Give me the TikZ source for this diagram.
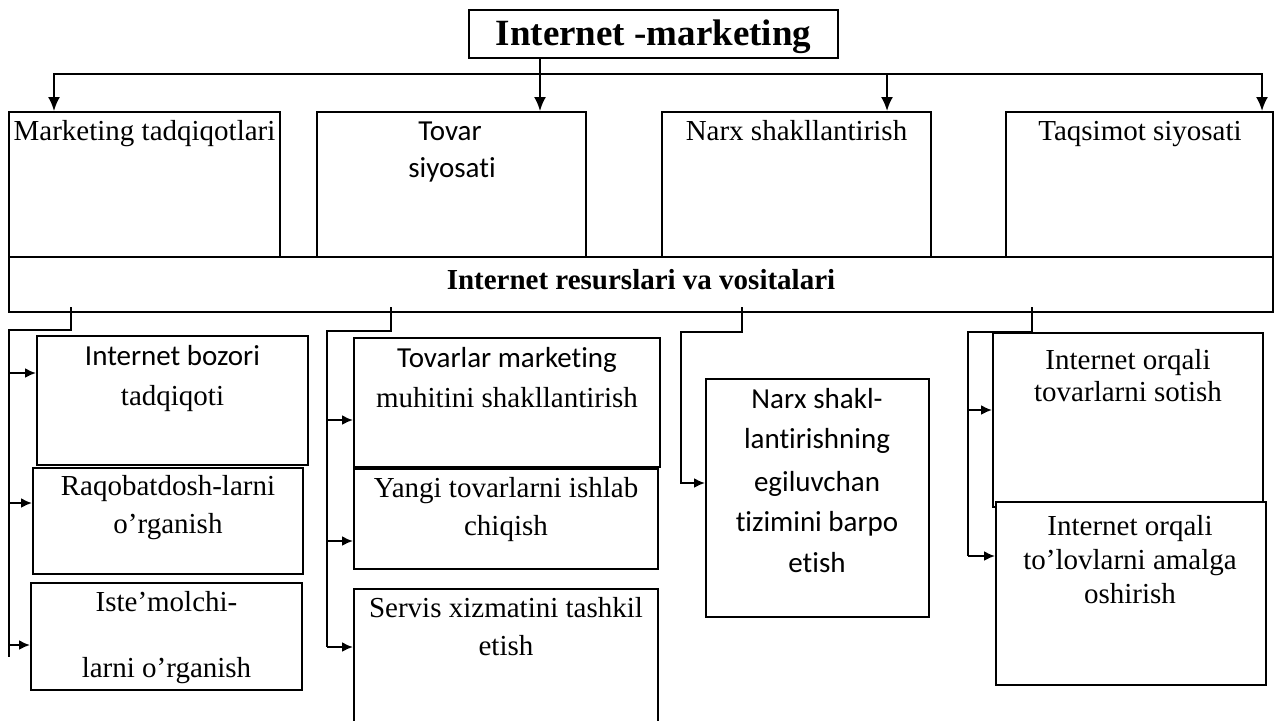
\documentclass[tikz,border=0pt]{standalone}
\usepackage{fontspec}
\setmainfont{Liberation Serif}
\newfontfamily\calfont[Ligatures={NoCommon}]{Carlito}
\usetikzlibrary{arrows.meta}
\begin{document}
\begin{tikzpicture}[x=0.5pt,y=-0.5pt,line width=1pt,
  box/.style={draw,rectangle,inner sep=0pt,line width=1pt},
  wh/.style 2 args={minimum width=#1*0.5pt,minimum height=#2*0.5pt},
  tx/.style={anchor=base,inner sep=0pt,font=\fontsize{14.5}{17}\selectfont},
  cx/.style={anchor=base,inner sep=0pt,font=\calfont\fontsize{14.5}{17}\selectfont},
  arr/.style={-{Latex[length=7pt,width=6pt]}},
  sarr/.style={-{Latex[length=5.5pt,width=5pt]}}]
\useasboundingbox (0,0) rectangle (1274,720);
\clip (0,0) rectangle (1274,720);

% title
\node[box,wh={369}{48}] (t) at (653.5,34) {};
\node[anchor=base,inner sep=0pt,font=\bfseries\fontsize{18.5}{22}\selectfont] (tt) at (653.5,45) {Internet -marketing};

% top boxes
\node[box,wh={271}{145}] (b1) at (144.5,184.5) {};
\node[box,wh={269}{145}] (b2) at (451.5,184.5) {};
\node[box,wh={269}{145}] (b3) at (796.5,184.5) {};
\node[box,wh={267}{145}] (b4) at (1139.5,184.5) {};
\node[tx] (b1t) at (144.5,140) {Marketing tadqiqotlari};
\node[cx] (b2t) at (450,140) {Tovar};
\node[cx] (b2u) at (452,177) {siyosati};
\node[tx] (b3t) at (796.5,140) {Narx shakllantirish};
\node[tx] (b4t) at (1140,140) {Taqsimot siyosati};

% resources bar
\node[box,wh={1264}{55}] (bar) at (641,284.5) {};
\node[anchor=base,inner sep=0pt,font=\bfseries\fontsize{14.5}{17}\selectfont] (bart) at (641,289) {Internet resurslari va vositalari};

% top connectors
\coordinate (a1) at (54,74);
\coordinate (a2) at (540,74);
\coordinate (a3) at (887,74);
\coordinate (a4) at (1262,74);
\draw[arr] (a4) -- (a1) -- (b1.north -| a1);
\draw[arr] (a1) -- (a4) -- (b4.north -| a4);
\draw[arr] (t.south -| a2) -- (b2.north -| a2);
\draw[arr] (a3) -- (b3.north -| a3);

% left column
\node[box,wh={271}{129}] (l1) at (172.5,400.5) {};
\node[box,wh={270}{106}] (l2) at (168,521) {};
\node[box,wh={271}{107}] (l3) at (166.5,636.5) {};
\node[cx] (l1t) at (172.5,365) {Internet bozori};
\node[tx] (l1u) at (172.5,405) {tadqiqoti};
\node[tx] (l2t) at (168,495) {Raqobatdosh-larni};
\node[tx] (l2u) at (168,533) {o’rganish};
\node[tx] (l3t) at (166.5,611) {Iste’molchi-};
\node[tx] (l3u) at (166.5,677) {larni o’rganish};
\coordinate (s1) at (71,307);
\coordinate (k1) at (9,330);
\coordinate (e1) at (9,657);
\draw (s1) -- (s1 |- k1) -- (k1) -- (e1);
\draw[sarr] (9,373) -- (l1.west |- 0,373);
\draw[sarr] (9,503) -- (l2.west |- 0,503);
\draw[sarr] (9,645) -- (l3.west |- 0,645);

% middle column
\node[box,wh={306}{129}] (m1) at (507,402.5) {};
\node[box,wh={304}{100}] (m2) at (506,519) {};
\node[box,wh={304}{150}] (m3) at (506,664) {};
\node[cx] (m1t) at (507,367) {Tovarlar marketing};
\node[tx] (m1u) at (507,407) {muhitini shakllantirish};
\node[tx] (m2t) at (506,497) {Yangi tovarlarni ishlab};
\node[tx] (m2u) at (506,535) {chiqish};
\node[tx] (m3t) at (506,617) {Servis xizmatini tashkil};
\node[tx] (m3u) at (506,655) {etish};
\coordinate (s2) at (391,307);
\coordinate (k2) at (327,331);
\coordinate (e2) at (327,647);
\draw (s2) -- (s2 |- k2) -- (k2) -- (e2);
\draw[sarr] (327,420) -- (m1.west |- 0,420);
\draw[sarr] (327,541) -- (m2.west |- 0,541);
\draw[sarr] (e2) -- (m3.west |- e2);

% price column
\node[box,wh={223}{238}] (n) at (817.5,498) {};
\node[cx] (n1) at (817,408) {Narx shakl-};
\node[cx] (n2) at (817,448) {lantirishning};
\node[cx] (n3) at (817,491) {egiluvchan};
\node[cx] (n4) at (817,531) {tizimini barpo};
\node[cx] (n5) at (817,572) {etish};
\coordinate (s3) at (742,307);
\coordinate (k3) at (681,332);
\coordinate (e3) at (681,483);
\draw[sarr] (s3) -- (s3 |- k3) -- (k3) -- (e3) -- (n.west |- e3);

% right column
\node[box,wh={270}{174}] (r1) at (1128,420) {};
\node[box,fill=white,wh={270}{183}] (r2) at (1131,593.5) {};
\node[tx] (r1t) at (1128,369) {Internet orqali};
\node[tx] (r1u) at (1128,401) {tovarlarni sotish};
\node[tx] (r2t) at (1130,535) {Internet orqali};
\node[tx] (r2u) at (1130,569) {to’lovlarni amalga};
\node[tx] (r2v) at (1130,603) {oshirish};
\coordinate (s4) at (1032,307);
\coordinate (k4) at (968,332);
\coordinate (e4) at (968,556);
\draw (s4) -- (s4 |- k4) -- (k4) -- (e4);
\draw[sarr] (968,410) -- (r1.west |- 0,410);
\draw[sarr] (e4) -- (r2.west |- e4);
\end{tikzpicture}
\end{document}
